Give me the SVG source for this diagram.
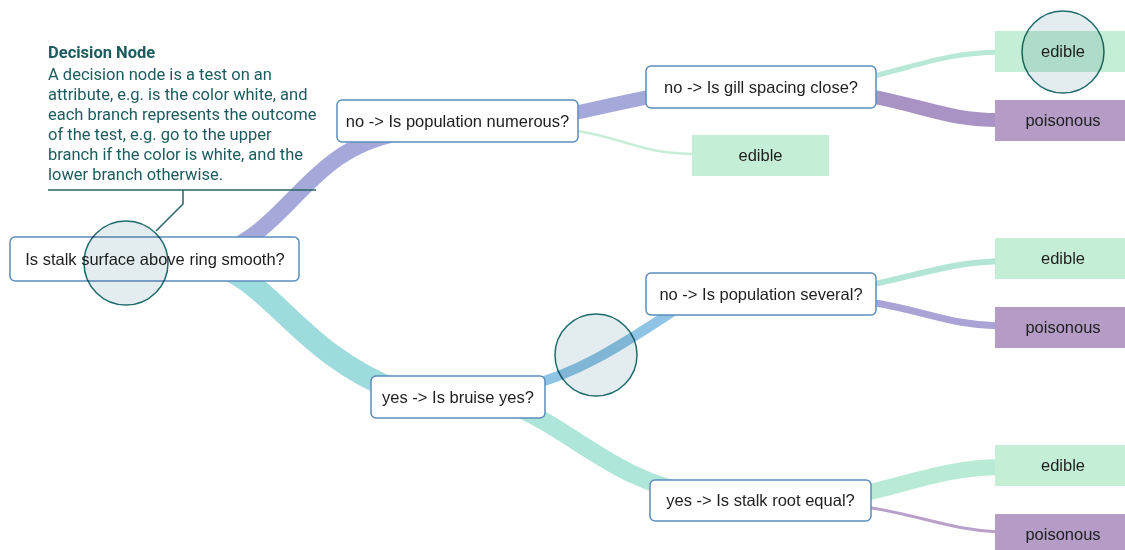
<svg xmlns="http://www.w3.org/2000/svg" width="1125" height="550" viewBox="0 0 1125 550">
<style>
.box{fill:#ffffff;stroke:#5b8dbd;stroke-width:1.5}
.edible{fill:#c5eed7}
.poison{fill:#b49cc6}
.lbl{font-family:"Liberation Sans",Arial,sans-serif;font-size:16.5px;fill:#1e1e1e;text-anchor:middle}
.link{fill:none;stroke-linecap:butt}
.hl{fill:#e3ecee;stroke:#1f6b6b;stroke-width:1.5;mix-blend-mode:multiply}
.ctxt{font-family:Roboto,"Noto Sans",sans-serif;font-size:16.5px;fill:#1d5b5e}
</style>
<rect width="1125" height="550" fill="#ffffff"/>
<g id="connectors">
<path class="link" d="M200 259 C290 240 300 150 400 133" stroke="#a5a9d9" stroke-width="16"/>
<path class="link" d="M200 262 C270 270 290 350 400 392" stroke="#9edbdc" stroke-width="22"/>
<path class="link" d="M520 123 C570 117 620 100 700 88" stroke="#a5a9d9" stroke-width="14"/>
<path class="link" d="M578 131 C630 140 640 153 692 154" stroke="#c8eed8" stroke-width="2.5"/>
<path class="link" d="M870 77 C930 62 950 53 1000 52" stroke="#b8e8d6" stroke-width="5"/>
<path class="link" d="M870 96 C930 108 950 120 1000 120" stroke="#a893c4" stroke-width="14"/>
<path class="link" d="M520 388 C575 375 615 350 690 300" stroke="#8fc4e5" stroke-width="10"/>
<path class="link" d="M480 397 C560 410 600 480 700 495" stroke="#aee6d9" stroke-width="18"/>
<path class="link" d="M870 285 C930 272 950 263 1000 261" stroke="#b2e5d6" stroke-width="6"/>
<path class="link" d="M870 302 C930 312 950 325 1000 326" stroke="#a9a3d6" stroke-width="7"/>
<path class="link" d="M866 493 C920 480 950 468 1000 467" stroke="#b8ead6" stroke-width="16"/>
<path class="link" d="M866 507 C920 515 950 530 1000 532" stroke="#b9a0cb" stroke-width="3"/>
</g>
<g id="root">
<rect class="box" x="10" y="237" width="289" height="44" rx="5"/>
<text class="lbl" x="155" y="265">Is stalk surface above ring smooth?</text>
</g>
<g id="n-numerous">
<rect class="box" x="337" y="100" width="241" height="42" rx="5"/>
<text class="lbl" x="457.5" y="127">no -&gt; Is population numerous?</text>
</g>
<g id="n-gill">
<rect class="box" x="646" y="66" width="230" height="42" rx="5"/>
<text class="lbl" x="761" y="93">no -&gt; Is gill spacing close?</text>
</g>
<g id="leaf-edible-1">
<rect class="edible" x="692" y="135" width="137" height="41"/>
<text class="lbl" x="760.5" y="161">edible</text>
</g>
<g id="leaf-edible-2">
<rect class="edible" x="995" y="31" width="137" height="41"/>
<text class="lbl" x="1063" y="57">edible</text>
</g>
<g id="leaf-poison-1">
<rect class="poison" x="995" y="100" width="137" height="41"/>
<text class="lbl" x="1063" y="126">poisonous</text>
</g>
<g id="n-bruise">
<rect class="box" x="371" y="376" width="174" height="42" rx="5"/>
<text class="lbl" x="458" y="403">yes -&gt; Is bruise yes?</text>
</g>
<g id="n-several">
<rect class="box" x="646" y="273" width="230" height="42" rx="5"/>
<text class="lbl" x="761" y="300">no -&gt; Is population several?</text>
</g>
<g id="leaf-edible-3">
<rect class="edible" x="995" y="238" width="137" height="41"/>
<text class="lbl" x="1063" y="264">edible</text>
</g>
<g id="leaf-poison-2">
<rect class="poison" x="995" y="307" width="137" height="41"/>
<text class="lbl" x="1063" y="333">poisonous</text>
</g>
<g id="n-stalkroot">
<rect class="box" x="650" y="480" width="221" height="41" rx="5"/>
<text class="lbl" x="760.5" y="506">yes -&gt; Is stalk root equal?</text>
</g>
<g id="leaf-edible-4">
<rect class="edible" x="995" y="445" width="137" height="41"/>
<text class="lbl" x="1063" y="471">edible</text>
</g>
<g id="leaf-poison-3">
<rect class="poison" x="995" y="514" width="137" height="41"/>
<text class="lbl" x="1063" y="540">poisonous</text>
</g>
<g id="highlights">
<circle class="hl" cx="126" cy="263" r="42"/>
<circle class="hl" cx="596" cy="355" r="41"/>
<circle class="hl" cx="1063" cy="52" r="41"/>
</g>
<g id="callout">
<text class="ctxt" x="48" y="58" font-weight="bold" font-size="16">Decision Node</text>
<text class="ctxt" x="48" y="80">A decision node is a test on an</text>
<text class="ctxt" x="48" y="100">attribute, e.g. is the color white, and</text>
<text class="ctxt" x="48" y="120">each branch represents the outcome</text>
<text class="ctxt" x="48" y="140">of the test, e.g. go to the upper</text>
<text class="ctxt" x="48" y="160">branch if the color is white, and the</text>
<text class="ctxt" x="48" y="180">lower branch otherwise.</text>
<line x1="48" y1="190" x2="316" y2="190" stroke="#2b6466" stroke-width="1.5"/>
<polyline points="183,190 183,204 156,231" fill="none" stroke="#2b6466" stroke-width="1.5"/>
</g>
</svg>
